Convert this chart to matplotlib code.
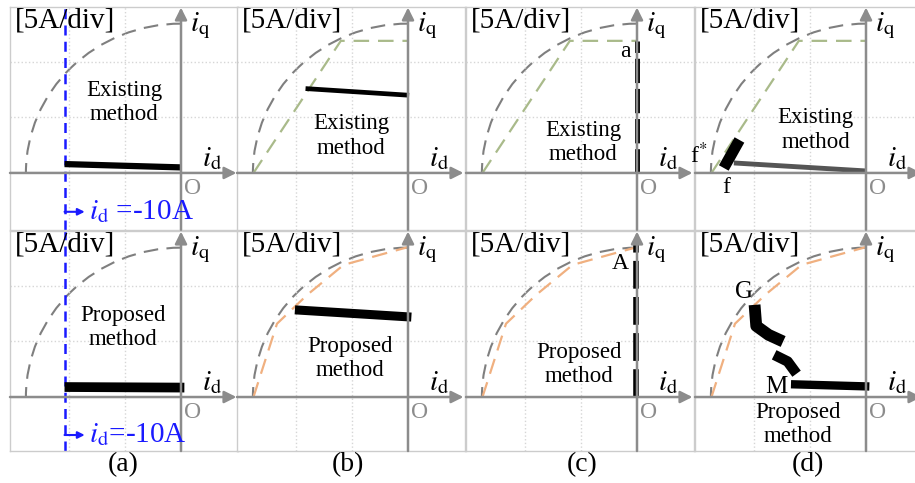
import matplotlib
matplotlib.use("Agg")
import matplotlib.pyplot as plt
from matplotlib.patches import Arc

plt.rcParams['font.family'] = ['Liberation Serif', 'DejaVu Serif']
plt.rcParams['mathtext.fontset'] = 'stix'

# current limit circle (A)
circle_rx, circle_ry = 13.85, 13.45

# reference trajectories (A)
green_id = [-13.8, -6.0, 0.0]
green_iq = [0.0, 11.9, 11.9]
orange_id = [-13.8, -11.7, -9.0, -5.75, 0.0]
orange_iq = [0.0, 6.6, 9.2, 11.9, 13.5]

# measured current trajectories (A)
a_top_id, a_top_iq = [-10.4, 0.0], [0.8, 0.5]
a_bot_id, a_bot_iq = [-10.4, 0.3], [0.9, 0.85]
b_top_id, b_top_iq = [-9.15, 0.1], [7.6, 7.0]
b_bot_id, b_bot_iq = [-10.1, 0.3], [7.85, 7.2]
c_top_id, c_top_iq = [0.0, 0.0], [0.0, 11.9]
c_bot_id, c_bot_iq = [-0.1, -0.1], [0.0, 13.7]
d_top_blob_id, d_top_blob_iq = [-12.7, -11.3], [0.45, 2.97]
d_top_line_id, d_top_line_iq = [-11.8, 0.0], [0.9, 0.18]
d_bot1_id, d_bot1_iq = [-9.95, -9.8, -8.7, -7.4], [8.3, 6.4, 5.6, 5.0]
d_bot2_id, d_bot2_iq = [-8.2, -7.0, -6.2], [3.8, 3.2, 2.1]
d_bot3_id, d_bot3_iq = [-6.7, 0.3], [1.15, 0.95]

id_limit = -10.4
panel_names = ['(a)', '(b)', '(c)', '(d)']
top_text = "Existing\nmethod"
bot_text = "Proposed\nmethod"
top_text_pos = [(-5.05, 6.35), (-5.1, 3.33), (-4.8, 2.75), (-4.5, 3.87)]
bot_text_pos = [(-5.2, 6.27), (-5.2, 3.5), (-5.2, 2.95), (-6.07, -2.5)]

W, H = 915, 483
fig = plt.figure(figsize=(W / 100, H / 100), dpi=100)

col_left = [10, 237, 466, 695]
pw = 228
rows = [(7, 230), (231, 451)]
xlim = (-15.27, 5.09)
ylims = [(-5.14, 14.95), (-4.86, 14.95)]

GRAY = '#8c8c8c'
BLUE = '#1a1aff'


def make_ax(col, row):
    x0 = col_left[col]
    y0, y1 = rows[row]
    ax = fig.add_axes([x0 / W, 1 - y1 / H, pw / W, (y1 - y0) / H])
    ax.set_xlim(*xlim)
    ax.set_ylim(*ylims[row])
    ax.set_xticks([-10, -5])
    ax.set_yticks([5, 10])
    ax.tick_params(length=0, labelbottom=False, labelleft=False)
    ax.grid(True, ls=':', color='#d6d6d6', lw=1)
    for s in ax.spines.values():
        s.set_color('#cccccc')
        s.set_linewidth(1)
    ylo = ylims[row][0]
    # axes arrows
    ax.annotate('', xy=(4.95, 0), xytext=(xlim[0], 0),
                arrowprops=dict(arrowstyle='-|>', color=GRAY, lw=1.8,
                                mutation_scale=18, shrinkA=0, shrinkB=0),
                annotation_clip=False)
    ax.annotate('', xy=(0, 14.9), xytext=(0, ylo),
                arrowprops=dict(arrowstyle='-|>', color=GRAY, lw=1.8,
                                mutation_scale=18, shrinkA=0, shrinkB=0),
                annotation_clip=False)
    ax.text(-14.85, 14.95, '[5A/div]', fontsize=21, va='top', ha='left')
    ax.text(0.8, 13.3, r'$i_\mathrm{q}$', fontsize=21, va='center', ha='left')
    ax.text(1.9, 1.3, r'$i_\mathrm{d}$', fontsize=21, va='center', ha='left')
    ax.text(1.07, -1.4, 'O', fontsize=17, color=GRAY, va='center', ha='center')
    arc = Arc((0, 0), 2 * circle_rx, 2 * circle_ry, theta1=90, theta2=180,
              color='#7f7f7f', lw=1.5, ls=(0, (7, 4)))
    ax.add_patch(arc)
    return ax


axes = {}
for r in range(2):
    for c in range(4):
        axes[(r, c)] = make_ax(c, r)

# reference lines
for c in (1, 2, 3):
    axes[(0, c)].plot(green_id, green_iq, color='#a9ba8a', lw=1.6, ls=(0, (7, 4)))
    axes[(1, c)].plot(orange_id, orange_iq, color='#f0b080', lw=1.6, ls=(0, (7, 4)))

# texts
for c in range(4):
    x, y = top_text_pos[c]
    axes[(0, c)].text(x, y, top_text, fontsize=16.5, ha='center', va='center')
    x, y = bot_text_pos[c]
    axes[(1, c)].text(x, y, bot_text, fontsize=16.5, ha='center', va='center')

# panel (a)
for r in range(2):
    ax = axes[(r, 0)]
    ax.axvline(id_limit, color=BLUE, lw=1.8, ls=(0, (4, 2.5)))
axes[(0, 0)].plot(a_top_id, a_top_iq, color='black', lw=4.5, solid_capstyle='butt')
axes[(1, 0)].plot(a_bot_id, a_bot_iq, color='black', lw=7, solid_capstyle='butt')
for r, yv, lab in [(0, -3.5, r'$i_\mathrm{d}$ =-10A'), (1, -3.42, r'$i_\mathrm{d}$=-10A')]:
    ax = axes[(r, 0)]
    ax.annotate('', xy=(-8.6, yv), xytext=(id_limit, yv),
                arrowprops=dict(arrowstyle='-|>', color=BLUE, lw=1.5,
                                mutation_scale=10, shrinkA=0, shrinkB=0))
    ax.text(-8.2, yv, lab, color=BLUE, fontsize=21, va='center', ha='left')

# panel (b)
axes[(0, 1)].plot(b_top_id, b_top_iq, color='black', lw=3.4, solid_capstyle='butt')
axes[(1, 1)].plot(b_bot_id, b_bot_iq, color='black', lw=6.5, solid_capstyle='butt')

# panel (c)
axes[(0, 2)].plot(c_top_id, c_top_iq, color='black', lw=3.5, ls=(0, (5, 1.2)))
axes[(0, 2)].text(-1.07, 10.9, 'a', fontsize=17, ha='center', va='center')
axes[(1, 2)].plot(c_bot_id, c_bot_iq, color='black', lw=4, ls=(0, (5, 1.5)))
axes[(1, 2)].text(-1.5, 12.0, 'A', fontsize=17, ha='center', va='center')

# panel (d)
axd = axes[(0, 3)]
axd.plot(d_top_line_id, d_top_line_iq, color='#555555', lw=3.5, solid_capstyle='butt')
axd.plot(d_top_blob_id, d_top_blob_iq, color='black', lw=8, solid_capstyle='butt')
axd.text(-14.9, 1.6, r'f$^{*}$', fontsize=17, ha='center', va='center')
axd.text(-12.5, -1.35, 'f', fontsize=17, ha='center', va='center')
axd = axes[(1, 3)]
axd.plot(d_bot1_id, d_bot1_iq, color='black', lw=8.5, solid_capstyle='butt')
axd.plot(d_bot2_id, d_bot2_iq, color='black', lw=7.5, solid_capstyle='butt')
axd.plot(d_bot3_id, d_bot3_iq, color='black', lw=6, solid_capstyle='butt')
axd.text(-10.9, 9.5, 'G', fontsize=18, ha='center', va='center')
axd.text(-8.0, 0.93, 'M', fontsize=18, ha='center', va='center')

label_x = [123, 348, 582, 808]
for c in range(4):
    fig.text(label_x[c] / W, 1 - 465 / H, panel_names[c], fontsize=20,
             ha='center', va='center')

fig.savefig('out.png', dpi=100)
